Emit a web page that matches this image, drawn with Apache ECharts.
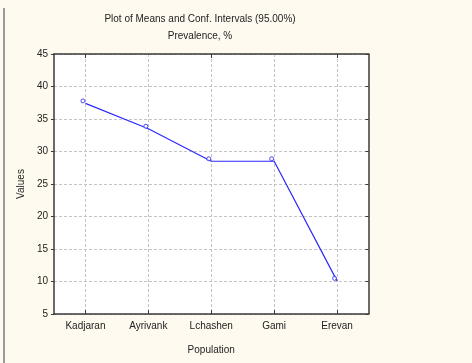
<!DOCTYPE html>
<html><head><meta charset="utf-8">
<script src="https://cdn.jsdelivr.net/npm/echarts@6/dist/echarts.min.js"></script>
<style>html,body{margin:0;padding:0;background:#fffaef;}#c{width:472px;height:363px;}</style>
</head><body><div id="c"></div>
<script>
var categories = ['Kadjaran', 'Ayrivank', 'Lchashen', 'Gami', 'Erevan'];
var means = [37.4, 33.5, 28.5, 28.5, 10.1];
var yTicks = [5, 10, 15, 20, 25, 30, 35, 40, 45];
var titleText = 'Plot of Means and Conf. Intervals (95.00%)';
var subtitleText = 'Prevalence, %';
var xName = 'Population';
var yName = 'Values';

var font = 'Liberation Sans, Arial, sans-serif';
var axisCol = '#3a3a3a';
var chart = echarts.init(document.getElementById('c'), null, {renderer: 'canvas'});
chart.setOption({
  backgroundColor: '#fffaef',
  animation: false,
  title: [
    {text: titleText, left: 195, top: 9, textAlign: 'center',
     textStyle: {fontFamily: font, fontSize: 10, fontWeight: 'normal', color: '#222'}},
    {text: subtitleText, left: 195, top: 26, textAlign: 'center',
     textStyle: {fontFamily: font, fontSize: 10, fontWeight: 'normal', color: '#222'}}
  ],
  graphic: [
    {type: 'rect', left: 3, top: 8, shape: {width: 2, height: 360}, style: {fill: '#9a9a9a'}}
  ],
  grid: {left: 54, top: 54, right: 103.5, bottom: 49, backgroundColor: '#ffffff', show: true, borderWidth: 0},
  xAxis: [
    {type: 'category', data: categories, position: 'bottom', boundaryGap: true,
     name: xName, nameLocation: 'middle', nameGap: 31,
     nameTextStyle: {fontFamily: font, fontSize: 10, color: '#222'},
     axisLine: {lineStyle: {color: axisCol, width: 1.5}},
     axisTick: {show: true, inside: true, length: 4, alignWithLabel: true, lineStyle: {color: axisCol}},
     axisLabel: {fontFamily: font, fontSize: 10, color: '#222', margin: 7},
     splitLine: {show: true, alignWithLabel: true, lineStyle: {color: '#c4c4c4', type: [3, 2]}}},
    {type: 'category', data: categories, position: 'top', boundaryGap: true,
     axisLine: {lineStyle: {color: axisCol, width: 1.5}},
     axisTick: {show: true, inside: true, length: 4, alignWithLabel: true, lineStyle: {color: axisCol}},
     axisLabel: {show: false}, splitLine: {show: false}}
  ],
  yAxis: [
    {type: 'value', min: yTicks[0], max: yTicks[yTicks.length - 1], interval: 5, position: 'left',
     name: yName, nameLocation: 'middle', nameGap: 22, nameRotate: 90,
     nameTextStyle: {fontFamily: font, fontSize: 10, color: '#222'},
     axisLine: {show: true, lineStyle: {color: axisCol, width: 1.5}},
     axisTick: {show: true, inside: false, length: 3, lineStyle: {color: axisCol}},
     axisLabel: {fontFamily: font, fontSize: 10, color: '#222', margin: 6},
     splitLine: {show: true, lineStyle: {color: '#c4c4c4', type: [3, 2]}}},
    {type: 'value', min: yTicks[0], max: yTicks[yTicks.length - 1], interval: 5, position: 'right',
     axisLine: {show: true, lineStyle: {color: axisCol, width: 1.5}},
     axisTick: {show: true, inside: true, length: 3, lineStyle: {color: axisCol}},
     axisLabel: {show: false}, splitLine: {show: false}}
  ],
  series: [
    {type: 'line', data: means, xAxisIndex: 0, yAxisIndex: 0, showSymbol: false, symbol: 'none',
     lineStyle: {color: '#2a2aff', width: 1.2}, z: 3},
    {type: 'scatter', data: means, xAxisIndex: 0, yAxisIndex: 0, symbol: 'circle', symbolSize: 4,
     symbolOffset: [-2.5, -2.5],
     itemStyle: {color: '#ffffff', borderColor: '#2020ff', borderWidth: 1}, z: 4}
  ]
});
</script></body></html>
